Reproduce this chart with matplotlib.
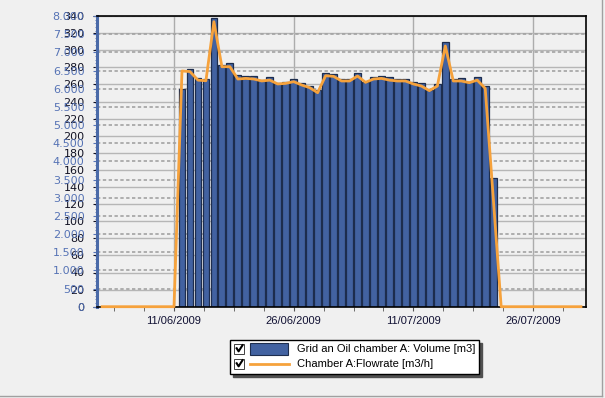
import numpy as np
import matplotlib
matplotlib.use("Agg")
import matplotlib.pyplot as plt
import matplotlib.dates as mdates
from matplotlib.ticker import MultipleLocator, FuncFormatter
from matplotlib.legend_handler import HandlerBase
from matplotlib.patches import Rectangle
from matplotlib.lines import Line2D
from matplotlib.container import BarContainer

# Dados
volume_start = "2009-06-12"
volume = [5990, 6533, 6293, 6257, 7945, 6651, 6715, 6376, 6349, 6349,
          6239, 6321, 6165, 6175, 6257, 6147, 6065, 5964, 6423, 6395,
          6257, 6257, 6423, 6193, 6313, 6340, 6313, 6266, 6266, 6193,
          6166, 5964, 6129, 7285, 6266, 6294, 6193, 6313, 6074, 3531]

flow_start = "2009-06-02"
flowrate = [0, 0, 0, 0, 0, 0, 0, 0, 0, 0,
            275.7, 275.0, 265.0, 264.3, 333.3, 280.7, 280.7, 266.3, 267.0, 266.3,
            264.0, 265.0, 260.5, 261.2, 263.2, 259.3, 256.2, 250.3, 270.2, 269.4,
            264.0, 264.0, 269.8, 262.4, 266.3, 267.0, 265.0, 264.0, 264.0, 260.5,
            258.1, 252.7, 258.1, 304.9, 264.0, 264.0, 262.0, 265.0, 255.4, 128.0,
            0, 0, 0, 0, 0, 0, 0, 0, 0, 0, 0]

tick_dates = ["2009-06-11", "2009-06-26", "2009-07-11", "2009-07-26"]
tick_labels = ["11/06/2009", "26/06/2009", "11/07/2009", "26/07/2009"]

volume_label = "Grid an Oil chamber A: Volume [m3]"
flow_label = "Chamber A:Flowrate [m3/h]"

BG = "#f0f0f0"
BAR_COLOR = "#4262a1"
BAR_EDGE = "#1d2d4e"
LINE_COLOR = "#f6a23c"
BLUE_TXT = "#5673b5"


class CheckHandler(HandlerBase):
    # checkbox + simbolo, como no legend original
    def __init__(self, kind):
        super().__init__()
        self.kind = kind

    def create_artists(self, legend, orig_handle, xdescent, ydescent,
                       width, height, fontsize, trans):
        x0 = -xdescent
        cy = -ydescent + height / 2
        box = Rectangle((x0, cy - 3.6), 7.2, 7.2, facecolor="white",
                        edgecolor="#404040", lw=0.7, transform=trans)
        tick = Line2D([x0 + 1.6, x0 + 3.0, x0 + 5.8], [cy + 0.2, cy - 2.0, cy + 2.4],
                      color="black", lw=1.5, transform=trans)
        if self.kind == "bar":
            sym = Rectangle((x0 + 11.5, cy - 4.3), 27, 8.6, facecolor=BAR_COLOR,
                            edgecolor=BAR_EDGE, lw=0.8, transform=trans)
        else:
            sym = Line2D([x0 + 11.5, x0 + 39], [cy, cy], color=LINE_COLOR,
                         lw=2, transform=trans)
        return [box, tick, sym]


vol_dates = np.arange(np.datetime64(volume_start), np.datetime64(volume_start) + len(volume))
flow_dates = np.arange(np.datetime64(flow_start), np.datetime64(flow_start) + len(flowrate))

fig = plt.figure(figsize=(6.05, 3.98), dpi=100, facecolor=BG)
ax = fig.add_axes([97 / 605, 1 - 306.7 / 398, (586 - 97) / 605, (306.7 - 16) / 398])
ax.set_facecolor(BG)

# eixo preto (m3/h) com grade solida
ax.set_ylim(0, 340)
ax.yaxis.set_major_locator(MultipleLocator(20))
ax.grid(axis="y", color="#b6b6b6", lw=1, ls="-")
ax.grid(axis="x", color="#acacac", lw=1)
ax.tick_params(axis="y", direction="out", length=3, pad=6, labelsize=8,
               colors="#111122")

# eixo azul (m3) com grade tracejada e barras
ax_b = ax.twinx()
ax_b.set_ylim(0, 8000)
ax_b.yaxis.set_major_locator(MultipleLocator(500))
ax_b.yaxis.set_minor_locator(MultipleLocator(100))
ax_b.yaxis.set_major_formatter(FuncFormatter(lambda v, p: f"{int(v):,}".replace(",", ".")))
ax_b.yaxis.tick_left()
ax_b.tick_params(axis="y", which="both", direction="out", left=True, right=False,
                 labelleft=True, labelright=False, labelsize=8, pad=6,
                 colors=BLUE_TXT)
ax_b.tick_params(axis="y", which="major", length=3)
ax_b.tick_params(axis="y", which="minor", length=1.5)
ax_b.set_axisbelow(True)
ax_b.grid(axis="y", color="#a2a2a2", lw=1.2, ls=(0, (2, 1.5)))
bars = ax_b.bar(vol_dates, volume, width=0.85, color=BAR_COLOR,
                edgecolor=BAR_EDGE, lw=0.9)

# linha laranja por cima
ax_l = ax.twinx()
ax_l.set_ylim(0, 340)
ax_l.set_yticks([])
line, = ax_l.plot(flow_dates, flowrate, color=LINE_COLOR, lw=2, clip_on=False,
                  zorder=5)

for a in (ax, ax_b):
    for s in a.spines.values():
        s.set_visible(False)
for side in ("top", "right", "bottom"):
    ax_l.spines[side].set_color("black")
    ax_l.spines[side].set_linewidth(1.2)
ax_l.spines["left"].set_color("#4a6aa8")
ax_l.spines["left"].set_linewidth(2.2)

# eixo x
ref = mdates.date2num(np.datetime64(tick_dates[0]))
tick_nums = [mdates.date2num(np.datetime64(d)) for d in tick_dates]
ax.set_xticks(tick_nums)
ax.set_xticklabels(tick_labels, fontfamily="Liberation Sans", fontsize=8,
                   color="#111133")
ax.xaxis.set_minor_locator(MultipleLocator(3.75, offset=ref % 3.75))
ax.tick_params(axis="x", which="both", direction="out", length=3, pad=4,
               color="#555555")
ax.set_xlim(ref - 9.65, ref + 51.63)

leg = fig.legend([bars, line], [volume_label, flow_label],
                 handler_map={BarContainer: CheckHandler("bar"), Line2D: CheckHandler("line")},
                 loc="upper left", bbox_to_anchor=(230 / 605, 1 - 340 / 398),
                 prop={"family": "Liberation Sans", "size": 8},
                 fancybox=False, shadow={"color": "#505050", "alpha": 1},
                 borderpad=0.4, handlelength=4.9, handletextpad=0.7,
                 labelspacing=0.45, borderaxespad=0)
leg.get_frame().set_edgecolor("black")
leg.get_frame().set_linewidth(1.0)
leg.get_frame().set_facecolor("white")
leg.get_frame().set_alpha(1)

# moldura da figura
fig.add_artist(Line2D([602 / 605, 602 / 605], [1 - 396 / 398, 1], transform=fig.transFigure,
                      color="#a0a0a0", lw=1))
fig.add_artist(Line2D([0, 602 / 605], [1 - 396 / 398, 1 - 396 / 398], transform=fig.transFigure,
                      color="#a0a0a0", lw=1))

fig.savefig("out.png", dpi=100, facecolor=fig.get_facecolor())
